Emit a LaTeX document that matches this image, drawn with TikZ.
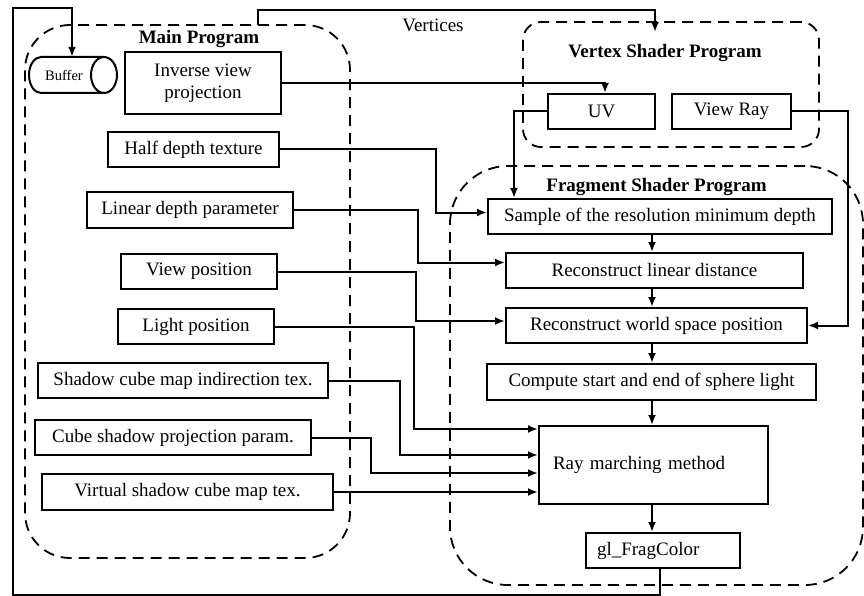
\documentclass[tikz,border=0pt]{standalone}
\usepackage{fontspec}
\setmainfont{Liberation Serif}
\usetikzlibrary{arrows.meta}
\begin{document}
\begin{tikzpicture}[x=1pt,y=-1pt,
  box/.style={draw, line width=2pt, inner sep=0pt, font=\fontsize{19}{22}\selectfont},
  grp/.style={draw, dash pattern=on 11pt off 7pt, line width=1.8pt, inner sep=0pt},
  conn/.style={line width=2pt},
  arr/.style={conn, -{Latex[length=10pt,width=8pt]}},
  ttl/.style={font=\fontsize{19}{22}\selectfont\bfseries, inner sep=0pt},
  lbl/.style={font=\fontsize{19}{22}\selectfont, inner sep=0pt}]
\useasboundingbox (0,0) rectangle (864,596);
% group frames
\node[grp, rounded corners=45pt, minimum width=325pt, minimum height=533pt] (mainbox) at (187.5,291.5) {};
\node[grp, rounded corners=18pt, minimum width=296pt, minimum height=125pt] (vertbox) at (671,84.5) {};
\node[grp, rounded corners=58pt, minimum width=413pt, minimum height=419pt] (fragbox) at (656.5,375.5) {};
\node[ttl] (tmain) at (199,39) {Main Program};
\node[ttl] (tvert) at (665,53) {Vertex Shader Program};
\node[ttl] (tfrag) at (656.5,187) {Fragment Shader Program};
\node[lbl] (tvtx) at (433,25) {Vertices};
% buffer
\node[inner sep=0pt, minimum width=60pt, minimum height=36pt, font=\fontsize{14.5}{16}\selectfont] (buf) at (64,75) {Buffer};
\draw[line width=2pt] (104,57) -- (41,57) arc[start angle=270, end angle=90, x radius=12, y radius=18] -- (104,93);
\draw[line width=2pt] (104,75) ellipse [x radius=13, y radius=18];
% main program boxes
\node[box, align=center, minimum width=156pt, minimum height=62pt] (inv) at (203,83) {Inverse view\\projection};
\node[box, minimum width=171pt, minimum height=35pt] (half) at (193.5,149.5) {Half depth texture};
\node[box, minimum width=206pt, minimum height=36pt] (lin) at (190,210) {Linear depth parameter};
\node[box, minimum width=156pt, minimum height=35pt] (viewpos) at (199,271.5) {View position};
\node[box, minimum width=156pt, minimum height=35pt] (light) at (196,326.5) {Light position};
\node[box, minimum width=290pt, minimum height=35pt] (shadow) at (183,380.5) {Shadow cube map indirection tex.};
\node[box, minimum width=276pt, minimum height=35pt] (cube) at (173,437.5) {Cube shadow projection param.};
\node[box, minimum width=291pt, minimum height=36pt] (virt) at (187.5,492) {Virtual shadow cube map tex.};
% vertex shader boxes
\node[box, minimum width=107pt, minimum height=35pt] (uv) at (601.5,111.5) {UV};
\node[box, minimum width=119pt, minimum height=35pt] (vray) at (731.5,111.5) {View Ray};
% fragment shader boxes
\node[box, minimum width=344pt, minimum height=35pt] (sample) at (660,216.5) {Sample of the resolution minimum depth};
\node[box, minimum width=297pt, minimum height=35pt] (recl) at (654.5,270.5) {Reconstruct linear distance};
\node[box, minimum width=301pt, minimum height=35pt] (recw) at (656.5,325.5) {Reconstruct world space position};
\node[box, minimum width=329pt, minimum height=36pt] (comp) at (651.5,382) {Compute start and end of sphere light};
\node[box, minimum width=229pt, minimum height=78pt, inner xsep=14pt, text width=201pt, align=left] (ray) at (653.5,465) {Ray marching method};
\node[box, minimum width=154pt, minimum height=35pt, inner xsep=11pt, text width=132pt, align=left] (glf) at (663,550.5) {gl\_FragColor};
% helper coordinates
\coordinate (ax) at (652,0);
\coordinate (gx) at (660,0);
\coordinate (lb) at (13,595);
\coordinate (lt) at (13,8);
\coordinate (vs) at (258,25);
\coordinate (vh) at (258,10);
\coordinate (vt) at (655,32);
% connectors
\draw[arr] (vs) -- (vh) -| (vt);
\draw[arr] (glf.south -| gx) |- (lb) -- (lt) -| ([xshift=8pt]buf.north);
\draw[arr] (inv.east) -| ([xshift=3.5pt]uv.north);
\draw[arr] (uv.west) -| ([xshift=-146pt]sample.north);
\draw[arr] (vray.east) -- ++(56,0) |- (recw.east);
\draw[arr] (half.east) -- ++(156,0) |- ([yshift=4pt]sample.west);
\draw[arr] (lin.east) -- ++(124,0) |- ([yshift=8pt]recl.west);
\draw[arr] (viewpos.east) -- ++(138,0) |- ([yshift=4.5pt]recw.west);
\draw[arr] (light.east) -- ++(139,0) |- ([yshift=36pt]ray.west);
\draw[arr] (shadow.east) -- ++(71,0) |- ([yshift=10pt]ray.west);
\draw[arr] (cube.east) -- ++(59,0) |- ([yshift=-8pt]ray.west);
\draw[arr] (virt.east) -- (virt.east -| ray.west);
\draw[arr] (sample.south -| ax) -- (recl.north -| ax);
\draw[arr] (recl.south -| ax) -- (recw.north -| ax);
\draw[arr] (recw.south -| ax) -- (comp.north -| ax);
\draw[arr] (comp.south -| ax) -- (ray.north -| ax);
\draw[arr] (ray.south -| ax) -- (glf.north -| ax);
\end{tikzpicture}
\end{document}
